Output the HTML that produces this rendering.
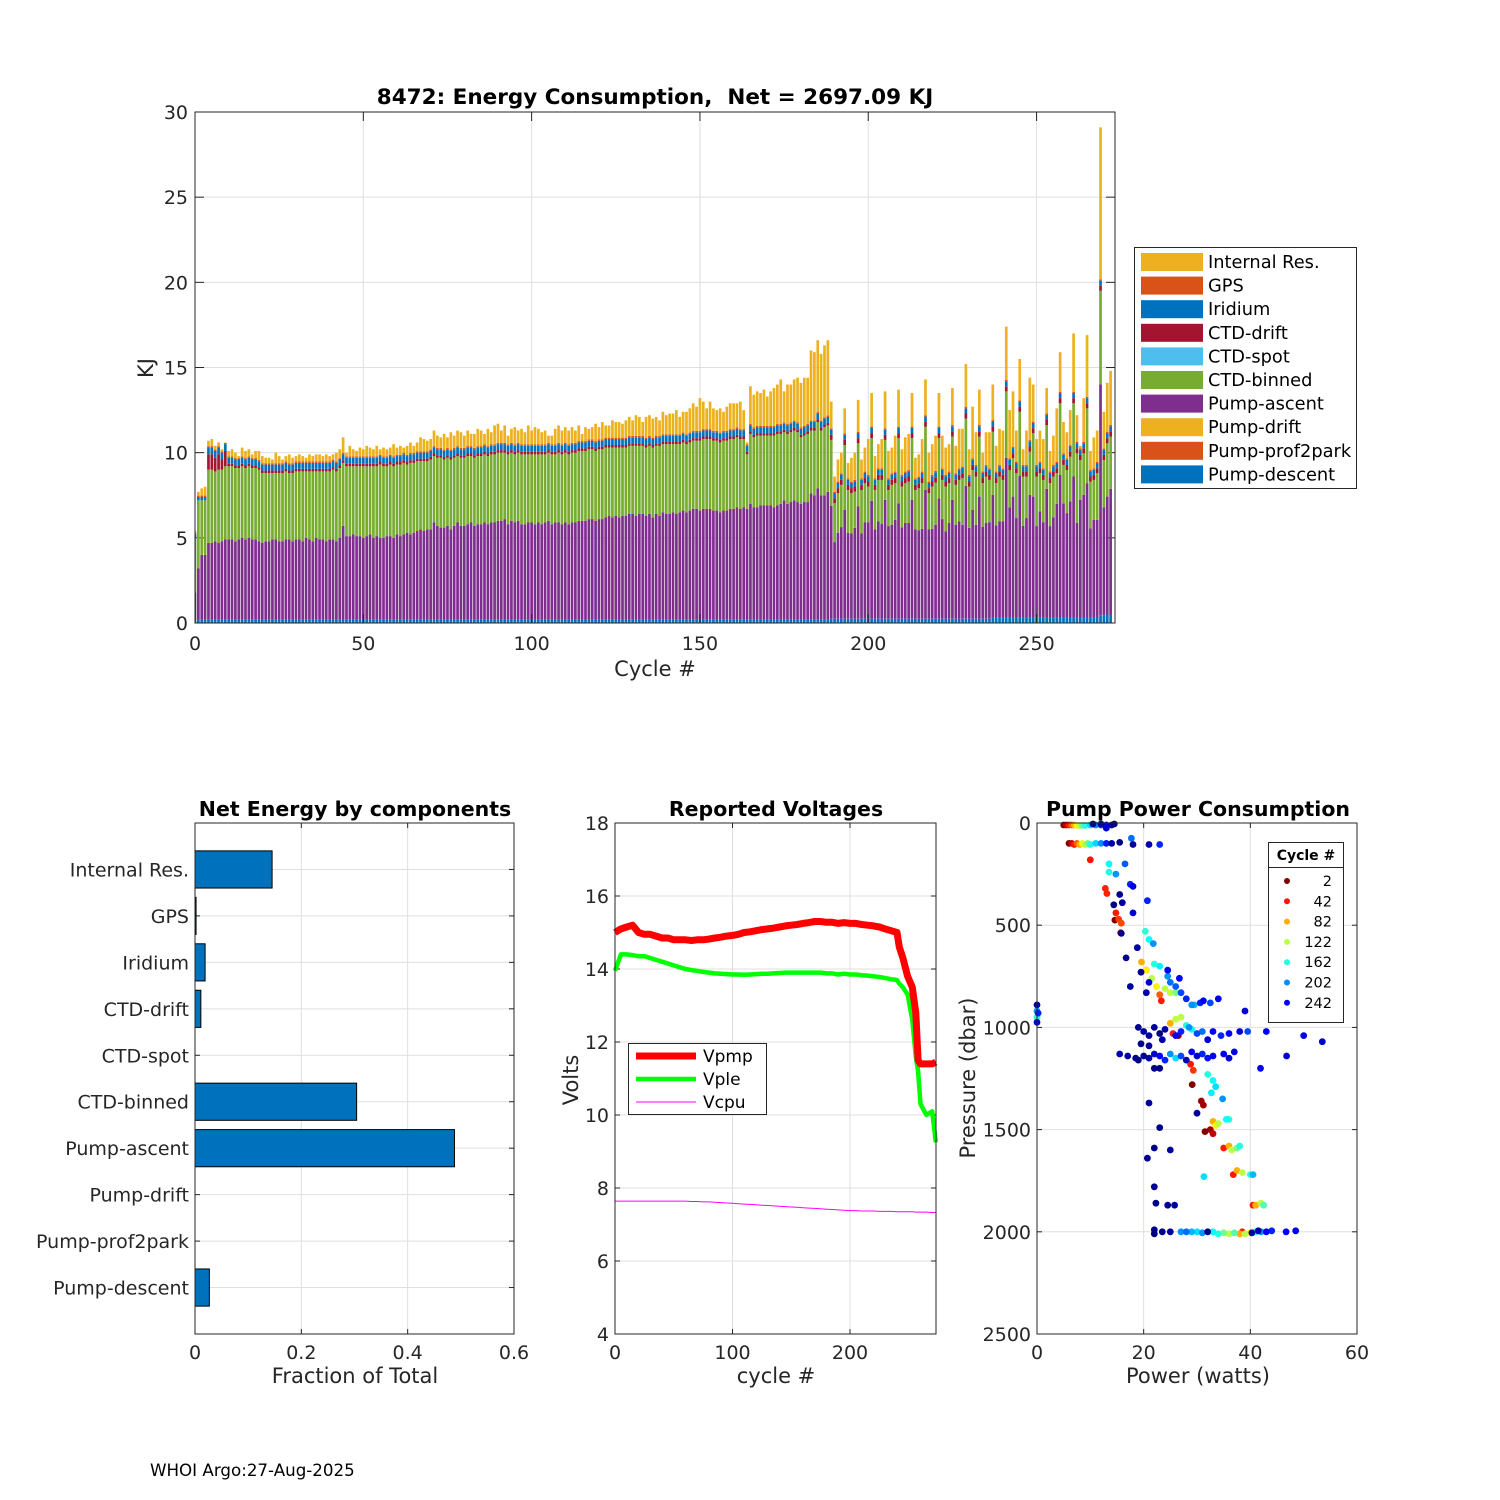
<!DOCTYPE html>
<html><head><meta charset="utf-8"><style>
html,body{margin:0;padding:0;background:#fff;}
svg{display:block;font-family:"DejaVu Sans","Liberation Sans",sans-serif;}
</style></head><body>
<svg id="fig" width="1500" height="1500" viewBox="0 0 1500 1500" xmlns="http://www.w3.org/2000/svg">
<rect width="1500" height="1500" fill="#fff"/>
<g id="top"></g><g id="bl"></g><g id="bm"></g><g id="br"></g>
<text x="150" y="1476" font-size="16.7" fill="#000">WHOI Argo:27-Aug-2025</text>
</svg>
<script>
// ---------- Energy stacked bar data (cycle index 0..272) ----------
const ascentTop = [1.8,3.2,4.0,4.0,4.7,4.7,4.8,4.7,4.8,4.9,
4.9,4.9,4.8,4.9,5.0,4.9,5.0,4.9,4.9,4.8, 4.7,4.8,4.8,4.9,4.9,4.8,4.8,4.9,4.9,4.8,
4.9,4.9,4.8,5.0,4.9,4.8,5.0,4.9,4.9,4.8, 4.9,4.9,4.8,5.0,5.7,5.1,5.1,5.2,5.1,5.1,
5.0,5.1,5.2,5.0,5.1,5.0,5.0,5.1,5.1,5.0, 5.2,5.1,5.2,5.3,5.2,5.3,5.4,5.5,5.4,5.5,
5.5,5.9,5.7,5.6,5.6,5.7,5.5,5.7,5.9,5.7, 5.7,5.8,5.9,5.7,5.8,5.8,5.9,5.8,5.9,5.9,
6.0,6.0,6.1,5.8,6.0,5.9,6.0,5.8,5.8,5.9, 5.9,5.8,5.9,5.8,5.9,6.0,5.8,5.9,5.9,5.8,
5.9,5.8,5.9,5.9,6.0,6.0,6.0,6.1,6.1,6.0, 6.1,6.1,6.2,6.3,6.2,6.3,6.2,6.3,6.3,6.4,
6.4,6.3,6.4,6.4,6.3,6.4,6.2,6.4,6.3,6.5, 6.4,6.4,6.5,6.4,6.5,6.6,6.5,6.6,6.7,6.7,
6.6,6.7,6.7,6.7,6.6,6.6,6.5,6.6,6.6,6.7, 6.7,6.8,6.7,6.8,6.7,7.0,6.8,6.8,6.9,6.9,
6.9,6.9,6.8,6.9,7.0,7.2,7.0,7.1,7.2,7.1, 7.0,7.1,7.1,7.6,7.5,7.9,7.5,7.5,7.7,
6.88,4.75,5.3,5.63,6.65,5.3,5.26,5.59,6.84,5.26,5.9,5.92,7.17,5.49,5.96,5.81,7.23,5.69,5.77,6.06,
7.03,5.61,5.87,5.87,7.23,5.49,5.45,5.53,7.81,5.49,5.53,5.77,7.32,6.10,5.39,5.87,7.23,5.77,5.96,5.77,
8.05,5.59,6.65,5.77,7.42,5.65,5.87,5.92,7.52,5.73,5.96,5.96,9.7,6.78,7.42,6.16,8.63,5.71,6.16,7.52,
7.42,5.69,6.55,5.92,7.88,5.69,6.20,7.0,8.69,7.03,6.45,7.13,8.6,5.87,7.23,7.52,8.21,5.55,6.06,6.06,
14.0,6.78,7.42,7.88];
const binnedTop = [5.0,7.2,7.2,7.2,9.0,9.0,8.9,9.0,9.0,9.2,
9.2,9.2,9.1,9.1,9.2,9.1,9.2,9.1,9.1,9.0, 8.8,8.8,8.8,8.8,8.8,8.8,8.8,8.9,8.8,8.8,
8.9,8.9,8.9,8.9,8.9,8.9,8.9,8.9,8.9,8.9, 8.9,9.0,8.9,9.1,9.4,9.2,9.2,9.2,9.2,9.2,
9.2,9.2,9.2,9.2,9.2,9.3,9.2,9.2,9.3,9.2, 9.3,9.3,9.4,9.3,9.4,9.4,9.5,9.5,9.5,9.5,
9.6,9.8,9.7,9.7,9.6,9.7,9.6,9.7,9.8,9.7, 9.7,9.8,9.8,9.7,9.8,9.8,9.9,9.8,9.9,9.9,
10.0,10.0,10.0,9.9,10.0,9.9,10.0,9.9,9.9,9.9, 9.9,9.9,9.9,9.9,9.9,10.0,9.9,9.9,10.0,9.9,
10.0,9.9,10.0,10.0,10.1,10.1,10.1,10.2,10.2,10.1, 10.2,10.2,10.3,10.3,10.3,10.3,10.3,10.3,10.3,10.4,
10.4,10.4,10.4,10.4,10.3,10.4,10.3,10.4,10.4,10.5, 10.5,10.5,10.5,10.5,10.5,10.6,10.5,10.6,10.7,10.7,
10.7,10.8,10.8,10.8,10.7,10.7,10.6,10.7,10.7,10.8, 10.8,10.9,10.8,10.8,9.9,11.1,10.9,11.0,11.0,11.0,
11.0,11.0,11.0,11.1,11.1,11.2,11.1,11.2,11.3,11.2, 10.9,11.0,11.1,11.3,11.3,11.8,11.3,11.5,11.6,
10.75,7.03,7.62,8.11,10.45,7.81,7.62,7.72,10.55,7.81,8.21,8.01,10.85,7.81,8.40,8.40,10.75,7.81,8.11,8.21,
10.85,8.01,8.21,8.30,10.85,7.81,7.91,8.21,11.52,7.62,8.01,8.25,10.85,8.40,8.01,8.21,10.95,8.11,8.40,8.50,
12.0,8.01,8.98,8.60,10.95,8.21,8.60,8.40,11.23,8.21,8.60,8.40,13.6,8.98,9.67,8.79,12.4,8.60,8.60,10.06,
11.14,8.60,8.79,8.40,11.62,8.21,8.60,8.79,12.9,9.28,8.98,9.76,12.9,9.96,9.57,9.96,12.6,8.30,8.40,8.79,
19.5,9.57,10.55,10.95];
const totalTop = [5.4,7.7,7.9,8.0,10.7,10.8,10.4,10.6,10.2,10.6,
10.1,10.2,10.0,9.8,10.3,10.1,10.2,9.9,10.1,10.1, 9.8,9.7,9.7,9.6,10.0,9.8,9.6,9.8,9.9,9.7,
9.8,9.9,9.8,9.7,9.9,9.8,9.9,9.9,9.8,9.9, 9.8,9.9,10.0,10.2,10.9,10.0,10.4,10.2,10.1,10.3,
10.2,10.4,10.3,10.2,10.4,10.2,10.3,10.2,10.3,10.5, 10.3,10.4,10.3,10.4,10.6,10.4,10.6,10.9,10.8,10.7,
10.8,11.3,11.0,10.9,11.1,10.9,11.2,11.0,11.3,11.2, 11.0,11.3,11.1,11.1,11.4,11.3,11.1,11.4,11.2,11.6,
11.7,11.3,11.6,11.0,11.4,11.5,11.3,11.4,11.2,11.6, 11.3,11.5,11.4,11.2,11.3,11.0,11.0,11.4,11.6,11.3,
11.5,11.3,11.5,11.3,11.6,11.1,11.5,11.4,11.5,11.7, 11.5,11.8,11.6,11.6,11.9,11.8,11.8,11.7,11.9,12.1,
11.9,12.2,12.1,11.8,12.1,12.2,12.0,12.1,11.9,12.4, 12.2,12.3,12.3,12.5,12.1,12.4,12.4,12.6,12.9,12.7,
13.2,13.0,12.6,13.0,12.6,12.5,12.6,12.4,12.7,12.9, 12.9,12.9,13.0,12.5,10.6,13.9,13.4,13.6,13.5,13.7,
13.3,13.6,13.8,14.0,14.3,13.6,14.0,14.0,14.3,14.4, 14.1,14.4,14.4,16.0,15.9,16.6,15.8,16.3,16.6,
13.0,8.6,9.6,10.0,12.6,9.4,9.7,10.0,13.1,9.6,10.3,10.8,13.5,9.8,10.5,10.8,13.6,10.1,10.3,11.0,
13.7,10.2,10.9,11.1,13.5,9.7,9.9,10.8,14.3,10.0,10.5,11.0,13.5,11.0,10.3,10.5,13.8,10.4,11.4,11.4,
15.2,10.2,12.7,11.2,13.7,10.0,11.2,11.2,14.0,10.4,11.4,11.3,17.4,12.5,13.6,11.3,15.5,10.2,11.3,14.4,
14.0,10.8,11.3,10.8,13.8,10.1,11.0,12.6,15.9,11.8,11.2,12.5,17.0,12.2,10.4,13.2,16.9,10.1,10.9,11.3,
29.1,12.4,14.1,14.8];
const descentKJ = [0.15,0.2,0.2,0.2,0.2,0.2,0.2,0.2,0.2,0.2,
0.2,0.2,0.2,0.2,0.2,0.2,0.2,0.2,0.2,0.2,0.2,0.2,0.2,0.2,0.2,0.2,0.2,0.2,0.2,0.2,
0.2,0.2,0.2,0.2,0.2,0.2,0.2,0.2,0.2,0.2,0.2,0.2,0.2,0.2,0.2,0.2,0.2,0.2,0.2,0.2,
0.2,0.2,0.2,0.2,0.2,0.2,0.2,0.2,0.2,0.2,0.2,0.2,0.2,0.2,0.2,0.2,0.2,0.2,0.2,0.2,
0.2,0.2,0.2,0.2,0.2,0.2,0.2,0.2,0.2,0.2,0.2,0.2,0.2,0.2,0.2,0.2,0.2,0.2,0.2,0.2,
0.2,0.2,0.2,0.2,0.2,0.2,0.2,0.2,0.2,0.2,0.2,0.2,0.2,0.2,0.2,0.2,0.2,0.2,0.2,0.2,
0.2,0.2,0.2,0.2,0.2,0.2,0.2,0.2,0.2,0.2,0.2,0.2,0.2,0.2,0.2,0.2,0.2,0.2,0.2,0.2,
0.2,0.2,0.2,0.2,0.2,0.2,0.2,0.2,0.2,0.2,0.2,0.2,0.2,0.2,0.2,0.2,0.2,0.2,0.2,0.2,
0.2,0.2,0.2,0.2,0.2,0.2,0.2,0.2,0.2,0.2,0.2,0.2,0.2,0.2,0.2,0.2,0.2,0.2,0.2,0.2,
0.2,0.2,0.2,0.2,0.2,0.2,0.2,0.2,0.2,0.2,0.2,0.2,0.2,0.2,0.2,0.2,0.2,0.2,0.2,
0.25,0.25,0.25,0.25,0.25,0.25,0.25,0.25,0.25,0.25,0.25,0.25,0.25,0.25,0.25,0.25,0.25,0.25,0.25,0.25,
0.25,0.25,0.25,0.25,0.25,0.25,0.25,0.25,0.25,0.25,0.25,0.25,0.25,0.25,0.25,0.25,0.25,0.25,0.25,0.25,
0.25,0.25,0.25,0.25,0.25,0.25,0.25,0.25,0.3,0.3,0.3,0.3,0.3,0.3,0.3,0.3,0.3,0.3,0.3,0.3,
0.3,0.3,0.3,0.3,0.3,0.3,0.3,0.3,0.35,0.35,0.35,0.35,0.35,0.35,0.35,0.35,0.35,0.35,0.35,0.35,
0.45,0.45,0.5,0.5];
const driftKJ = [0,0,0,0,0.9,0.9,0.8,0.9,0.6,0.9,
0.15,0.15,0.15,0.15,0.15,0.15,0.15,0.15,0.15,0.15,0.15,0.15,0.15,0.15,0.15,0.15,0.15,0.15,0.15,0.15,
0.15,0.15,0.15,0.15,0.15,0.15,0.15,0.15,0.15,0.15,0.15,0.15,0.15,0.15,0.15,0.15,0.15,0.15,0.15,0.15,
0.15,0.15,0.15,0.15,0.15,0.15,0.15,0.15,0.15,0.15,0.15,0.15,0.15,0.15,0.15,0.15,0.15,0.15,0.15,0.15,
0.15,0.15,0.15,0.15,0.15,0.15,0.15,0.15,0.15,0.15,0.15,0.15,0.15,0.15,0.15,0.15,0.15,0.15,0.15,0.15,
0.15,0.15,0.15,0.15,0.15,0.15,0.15,0.15,0.15,0.15,0.15,0.15,0.15,0.15,0.15,0.15,0.15,0.15,0.15,0.15,
0.15,0.15,0.15,0.15,0.15,0.15,0.15,0.15,0.15,0.15,0.15,0.15,0.15,0.15,0.15,0.15,0.15,0.15,0.15,0.15,
0.15,0.15,0.15,0.15,0.15,0.15,0.15,0.15,0.15,0.15,0.15,0.15,0.15,0.15,0.15,0.15,0.15,0.15,0.15,0.15,
0.15,0.15,0.15,0.15,0.15,0.15,0.15,0.15,0.15,0.15,0.15,0.15,0.15,0.15,0.15,0.15,0.15,0.15,0.15,0.15,
0.15,0.15,0.15,0.15,0.15,0.15,0.15,0.15,0.15,0.15,0.15,0.15,0.15,0.15,0.15,0.15,0.15,0.15,0.15,
0.3,0.3,0.3,0.3,0.3,0.3,0.3,0.3,0.3,0.3,0.3,0.3,0.3,0.3,0.3,0.3,0.3,0.3,0.3,0.3,
0.3,0.3,0.3,0.3,0.3,0.3,0.3,0.3,0.3,0.3,0.3,0.3,0.3,0.3,0.3,0.3,0.3,0.3,0.3,0.3,
0.3,0.3,0.3,0.3,0.3,0.3,0.3,0.3,0.3,0.3,0.3,0.3,0.3,0.3,0.3,0.3,0.3,0.3,0.3,0.3,
0.3,0.3,0.3,0.3,0.3,0.3,0.3,0.3,0.3,0.3,0.3,0.3,0.3,0.3,0.3,0.3,0.3,0.3,0.3,0.3,
0.3,0.3,0.3,0.3];
const iridiumKJ = [0.2,0.2,0.2,0.2,0.4,0.4,0.4,0.4,0.4,0.4,
0.35,0.35,0.35,0.35,0.35,0.35,0.35,0.35,0.35,0.35,0.35,0.35,0.35,0.35,0.35,0.35,0.35,0.35,0.35,0.35,
0.35,0.35,0.35,0.35,0.35,0.35,0.35,0.35,0.35,0.35,0.35,0.35,0.35,0.35,0.35,0.35,0.35,0.35,0.35,0.35,
0.35,0.35,0.35,0.35,0.35,0.35,0.35,0.35,0.35,0.35,0.35,0.35,0.35,0.35,0.35,0.35,0.35,0.35,0.35,0.35,
0.35,0.35,0.35,0.35,0.35,0.35,0.35,0.35,0.35,0.35,0.35,0.35,0.35,0.35,0.35,0.35,0.35,0.35,0.35,0.35,
0.35,0.35,0.35,0.35,0.35,0.35,0.35,0.35,0.35,0.35,0.35,0.35,0.35,0.35,0.35,0.35,0.35,0.35,0.35,0.35,
0.35,0.35,0.35,0.35,0.35,0.35,0.35,0.35,0.35,0.35,0.35,0.35,0.35,0.35,0.35,0.35,0.35,0.35,0.35,0.35,
0.35,0.35,0.35,0.35,0.35,0.35,0.35,0.35,0.35,0.35,0.35,0.35,0.35,0.35,0.35,0.35,0.35,0.35,0.35,0.35,
0.35,0.35,0.35,0.35,0.35,0.35,0.35,0.35,0.35,0.35,0.35,0.35,0.35,0.35,0.35,0.35,0.35,0.35,0.35,0.35,
0.35,0.35,0.35,0.35,0.35,0.35,0.35,0.35,0.35,0.35,0.35,0.35,0.35,0.35,0.35,0.35,0.35,0.35,0.35,
0.3,0.3,0.3,0.3,0.3,0.3,0.3,0.3,0.3,0.3,0.3,0.3,0.3,0.3,0.3,0.3,0.3,0.3,0.3,0.3,
0.3,0.3,0.3,0.3,0.3,0.3,0.3,0.3,0.3,0.3,0.3,0.3,0.3,0.3,0.3,0.3,0.3,0.3,0.3,0.3,
0.3,0.3,0.3,0.3,0.3,0.3,0.3,0.3,0.3,0.3,0.3,0.3,0.3,0.3,0.3,0.3,0.3,0.3,0.3,0.3,
0.3,0.3,0.3,0.3,0.3,0.3,0.3,0.3,0.3,0.3,0.3,0.3,0.3,0.3,0.3,0.3,0.3,0.3,0.3,0.3,
0.3,0.3,0.3,0.3];
const energyTicksY = [0,5,10,15,20,25,30];
const energyTicksX = [0,50,100,150,200,250];
const legendNames = ["Internal Res.","GPS","Iridium","CTD-drift","CTD-spot","CTD-binned","Pump-ascent","Pump-drift","Pump-prof2park","Pump-descent"];
const legendColors = ["#EDB120","#D95319","#0072BD","#A2142F","#4DBEEE","#77AC30","#7E2F8E","#EDB120","#D95319","#0072BD"];

// ---------- Net energy fractions ----------
const compNames = ["Pump-descent","Pump-prof2park","Pump-drift","Pump-ascent","CTD-binned","CTD-spot","CTD-drift","Iridium","GPS","Internal Res."];
const compFrac = [0.027,0,0,0.488,0.304,0,0.011,0.019,0.002,0.145];
const fracTicks = [0,0.2,0.4,0.6];

// ---------- Voltages ----------
const vCycles = [0,5,10,15,20,25,30,35,40,45,50,55,60,65,70,75,80,85,90,95,100,105,110,115,120,125,130,135,140,145,150,155,160,165,170,175,180,185,190,195,200,205,210,215,220,225,230,235,240,242,245,249,253,256,258,260,265,270,273];
const vPmp = [15.0,15.1,15.15,15.2,15.0,14.95,14.95,14.9,14.85,14.85,14.8,14.8,14.8,14.78,14.8,14.8,14.82,14.85,14.87,14.9,14.92,14.95,15.0,15.02,15.05,15.08,15.1,15.12,15.15,15.18,15.2,15.22,15.25,15.27,15.3,15.3,15.28,15.28,15.25,15.27,15.25,15.25,15.22,15.2,15.18,15.15,15.1,15.05,15.0,14.6,14.3,13.8,13.5,12.8,11.5,11.4,11.4,11.4,11.45];
const vPle = [13.95,14.4,14.4,14.38,14.35,14.35,14.3,14.25,14.2,14.15,14.1,14.05,14.0,13.97,13.95,13.92,13.9,13.88,13.87,13.86,13.85,13.85,13.84,13.85,13.86,13.87,13.87,13.88,13.89,13.9,13.9,13.9,13.9,13.9,13.9,13.9,13.88,13.88,13.85,13.87,13.85,13.85,13.83,13.82,13.8,13.78,13.75,13.72,13.7,13.6,13.5,13.3,12.6,11.6,11.2,10.3,10.0,10.1,9.25];
const vCpu = [7.64,7.64,7.64,7.64,7.64,7.64,7.64,7.64,7.64,7.64,7.64,7.64,7.64,7.63,7.63,7.62,7.62,7.61,7.6,7.59,7.58,7.57,7.56,7.55,7.54,7.53,7.52,7.51,7.5,7.49,7.48,7.47,7.46,7.45,7.44,7.43,7.42,7.41,7.4,7.39,7.38,7.38,7.37,7.37,7.37,7.36,7.36,7.36,7.35,7.35,7.35,7.35,7.35,7.34,7.34,7.34,7.34,7.33,7.33];
const voltTicksY = [4,6,8,10,12,14,16,18];
const voltTicksX = [0,100,200];

// ---------- Pump power scatter ----------
const powW = [5,5.5,6,6.5,7,7.5,8,8.5,9,10,11,12,13,14,14.5,13,10.5,12,
6,6.5,7,7.5,8,8.5,9,9.5,10,11,12,13,14,15.5,17.7,18,21,23,
10,13.5,13.5,14.8,16.5,12.8,13.1,17.5,18,15.5,16,14.4,20.7,18,14.8,15.3,15.8,15.8,14.6,15.7,
20.3,21,21.8,18.8,16.7,
19.6,20.5,21.5,22.4,23,23.3,20.5,22,23,24.5,25,26,27,28,29,26,25,24,19.5,17.5,20.5,21,26.7,24.5,30.6,32.5,34,39,31.2,29.5,
19,20,21,22,23,24,19.5,21,23.5,26,27,28.5,30,31,32,33,34.5,36,38,39.5,25,26,27,28,29,25.5,26.5,43,50,53.5,46.8,41.9,
15.5,17,18.5,19,20,21,22,23,24,25,26,27,28,29,30,31,32,33,35,36,37,22,23,28.8,29.3,32,33,33.5,32.7,29.1,30.8,31.2,34.8,30,21,23,35.5,36,
33,33.5,34,32.5,31.5,33,35,36,36.5,37.5,38,22,25,20.7,
36.8,37.5,38.5,40,40.5,31.3,22,22.3,24.5,25.8,40.5,41,42,42.5,
22,22,23.5,25,27,28,29,30,31,32,33,34,35,36,37,38,38.5,39,40,41,42,43,41.5,44,46.7,48.5,40.3,
0,0,0,0,0.2];
const presDbar = [10,10,10,10,10,12,12,12,12,10,10,10,10,10,5,25,5,5,
100,100,105,100,105,100,105,100,105,100,100,100,100,95,75,105,105,105,
180,200,240,250,200,320,345,300,310,350,390,400,380,440,440,470,490,540,475,537,
530,570,590,610,660,
680,720,760,800,840,870,720,690,700,750,780,800,830,860,890,830,830,810,730,800,830,780,760,720,880,880,860,920,870,890,
1000,1020,1040,1000,1030,1010,1080,1090,1060,1040,1020,1000,1030,1020,1060,1020,1040,1030,1020,1020,980,960,950,990,1010,1030,1040,1020,1040,1070,1140,1200,
1130,1140,1150,1160,1140,1150,1130,1140,1160,1130,1150,1140,1160,1120,1140,1130,1150,1140,1130,1150,1120,1200,1200,1180,1210,1230,1260,1290,1320,1280,1360,1380,1350,1420,1370,1490,1450,1450,
1460,1480,1470,1500,1510,1520,1590,1580,1600,1590,1580,1590,1600,1640,
1720,1700,1710,1720,1720,1730,1780,1860,1870,1870,1870,1870,1860,1870,
1990,2010,2000,2000,2000,2000,2000,2000,2005,2000,2000,2010,2005,2010,2005,2010,2000,2010,2005,2000,2000,2000,1995,1995,2000,1995,2005,
890,920,950,975,930];
const pointCycle = [2,20,42,62,82,102,122,142,162,182,202,222,242,262,272,250,270,265,
2,22,42,62,82,102,122,142,162,182,202,232,262,272,210,265,260,230,
40,170,165,200,215,45,45,230,250,270,265,270,230,250,42,50,55,270,2,10,
160,170,200,265,270,
82,100,122,100,60,42,62,162,175,200,210,215,220,230,200,140,120,122,270,265,262,250,240,245,230,220,240,250,240,190,
270,265,262,268,272,262,270,266,260,240,230,200,220,210,250,240,230,240,250,220,82,120,122,162,170,42,2,242,245,250,250,240,
260,265,270,272,268,262,250,240,230,200,180,220,260,240,250,230,235,240,245,250,245,272,270,42,50,162,170,180,175,2,10,12,200,265,265,270,170,160,
82,100,122,10,2,20,42,82,122,140,162,270,265,270,
42,82,122,162,190,180,268,270,265,262,42,82,122,150,
270,272,268,265,200,210,190,180,200,270,170,162,140,122,150,82,42,122,100,162,200,240,260,230,242,245,265,
262,200,162,250,230];
const legendCycles = [2,42,82,122,162,202,242];
const powTicksX = [0,20,40,60];
const presTicksY = [0,500,1000,1500,2000,2500];

const NS = "http://www.w3.org/2000/svg";
function mk(parent, tag, attrs, text){
  const e = document.createElementNS(NS, tag);
  for (const k in attrs) e.setAttribute(k, attrs[k]);
  if (text !== undefined) e.textContent = text;
  parent.appendChild(e);
  return e;
}
const TXT = "#262626", GRID = "#dfdfdf";
const TICK = 19, AXT = 21, TTL = 20.5;

function jet(c){
  const t = 1 - (c - 2) / 271;
  const cl = v => Math.max(0, Math.min(1, v));
  const r = cl(1.5 - Math.abs(4*t - 3)), g = cl(1.5 - Math.abs(4*t - 2)), b = cl(1.5 - Math.abs(4*t - 1));
  return `rgb(${Math.round(r*255)},${Math.round(g*255)},${Math.round(b*255)})`;
}

function axesFrame(g, L, T, R, B){
  const box = mk(g, "rect", {x:L, y:T, width:R-L, height:B-T, fill:"none", stroke:TXT, "stroke-width":1});
  
  
}

// ================= TOP: stacked bars =================
(function(){
  const g = document.getElementById("top");
  
  
  const L=195, R=1115, T=112, B=623;
  const xs = c => L + (c/273.3)*(R-L);
  const ys = v => B - (v/30)*(B-T);
  for (const t of energyTicksY){
    const y = ys(t);
    if (t>0 && t<30){ const gl = mk(g,"line",{x1:L,x2:R,y1:y,y2:y,stroke:GRID,"stroke-width":1});
        }
    const tl = mk(g,"text",{x:L-7,y:y+7,"text-anchor":"end","font-size":TICK,fill:TXT}, String(t));
     
    mk(g,"line",{x1:L,x2:L+9,y1:y,y2:y,stroke:TXT});
    mk(g,"line",{x1:R,x2:R-9,y1:y,y2:y,stroke:TXT});
  }
  for (const t of energyTicksX){
    const x = xs(t);
    if (t>0){ const gl = mk(g,"line",{x1:x,x2:x,y1:T,y2:B,stroke:GRID,"stroke-width":1});
        }
    const tl = mk(g,"text",{x:x,y:B+27,"text-anchor":"middle","font-size":TICK,fill:TXT}, String(t));
     
  }
  const clip = mk(g,"clipPath",{id:"topclip"}); mk(clip,"rect",{x:L,y:T,width:R-L,height:B-T});
  const bars = mk(g,"g",{"clip-path":"url(#topclip)"});
  
  
  const n = ascentTop.length;
  const bw = (R-L)/273.3*0.8;
  for (let i=0;i<n;i++){
    const segs = [];
    const d = descentKJ[i] !== undefined ? descentKJ[i] : 0.2;
    const pt = ascentTop[i], gt = binnedTop[i];
    const dr = driftKJ[i]||0, ir = iridiumKJ[i]||0, tot = totalTop[i];
    segs.push([0,d,"#0072BD"]);
    segs.push([d,pt,"#7E2F8E"]);
    segs.push([pt,gt,"#77AC30"]);
    segs.push([gt,gt+dr,"#A2142F"]);
    segs.push([gt+dr,gt+dr+ir,"#0072BD"]);
    segs.push([gt+dr+ir,Math.min(tot,gt+dr+ir+0.08),"#D95319"]);
    segs.push([gt+dr+ir+0.08,tot,"#EDB120"]);
    const x = xs(i) - bw/2;
    for (const s of segs){
      if (s[1] <= s[0]) continue;
      const r = mk(bars,"rect",{x:x.toFixed(2),y:ys(s[1]).toFixed(2),width:bw.toFixed(2),height:(ys(s[0])-ys(s[1])).toFixed(2),fill:s[2]});
      
      
    }
  }
  for (const t of energyTicksX){ const x=xs(t);
    mk(g,"line",{x1:x,x2:x,y1:B,y2:B-9,stroke:TXT}); mk(g,"line",{x1:x,x2:x,y1:T,y2:T+9,stroke:TXT}); }
  axesFrame(g,L,T,R,B);
  const ti = mk(g,"text",{x:655,y:104,"text-anchor":"middle","font-size":21.5,"font-weight":"bold",fill:"#000"},"8472: Energy Consumption,\u00a0\u00a0Net = 2697.09 KJ");
   
  const xl = mk(g,"text",{x:655,y:676,"text-anchor":"middle","font-size":AXT,fill:TXT},"Cycle #");
   
  const yl = mk(g,"text",{x:0,y:0,"text-anchor":"middle","font-size":AXT,fill:TXT,transform:"translate(153,368) rotate(-90)"},"KJ");
   
  const lg = mk(g,"g",{});
   
  mk(lg,"rect",{x:1134.5,y:247.5,width:222,height:241,fill:"#fff",stroke:TXT});
  for (let k=0;k<legendNames.length;k++){
    const y = 262 + k*23.6;
    const e = mk(lg,"g",{});
     
    mk(e,"rect",{x:1141,y:y-9,width:62,height:18,fill:legendColors[k]});
    mk(e,"text",{x:1208,y:y+6,"font-size":17.8,fill:"#000"},legendNames[k]);
  }
})();

// ================= BOTTOM LEFT: fractions =================
(function(){
  const g = document.getElementById("bl");
   
  const L=195,R=514,T=823,B=1334;
  const xs = v => L + v/0.6*(R-L);
  const ys = i => B - (i+1)*(B-T)/11;
  for (const t of fracTicks){ const x=xs(t);
    if (t>0 && t<0.6) mk(g,"line",{x1:x,x2:x,y1:T,y2:B,stroke:GRID});
    const tl = mk(g,"text",{x:x,y:B+25,"text-anchor":"middle","font-size":TICK,fill:TXT},String(t));
     
    mk(g,"line",{x1:x,x2:x,y1:B,y2:B-5,stroke:TXT}); mk(g,"line",{x1:x,x2:x,y1:T,y2:T+5,stroke:TXT});
  }
  for (let i=0;i<compNames.length;i++){ const y=ys(i);
    mk(g,"line",{x1:L,x2:R,y1:y,y2:y,stroke:GRID});
    mk(g,"line",{x1:L,x2:L+5,y1:y,y2:y,stroke:TXT}); mk(g,"line",{x1:R,x2:R-5,y1:y,y2:y,stroke:TXT});
    const tl = mk(g,"text",{x:L-6,y:y+7,"text-anchor":"end","font-size":TICK,fill:TXT},compNames[i]);
     
  }
  for (let i=0;i<compNames.length;i++){
    if (compFrac[i] <= 0) continue;
    const h = (B-T)/11*0.8, y = ys(i) - h/2;
    const r = mk(g,"rect",{x:L,y:y,width:Math.max(0.5,xs(compFrac[i])-L),height:h,fill:"#0072BD",stroke:"#000","stroke-width":1});
    
    
  }
  axesFrame(g,L,T,R,B);
  const ti = mk(g,"text",{x:355,y:816,"text-anchor":"middle","font-size":TTL,"font-weight":"bold",fill:"#000"},"Net Energy by components");
   
  const xl = mk(g,"text",{x:355,y:1383,"text-anchor":"middle","font-size":AXT,fill:TXT},"Fraction of Total");
   
})();

// ================= BOTTOM MIDDLE: voltages =================
(function(){
  const g = document.getElementById("bm");
   
  const L=615,R=936,T=823,B=1334;
  const xs = c => L + c/273.2*(R-L);
  const ys = v => B - (v-4)/14*(B-T);
  for (const t of voltTicksY){ const y=ys(t);
    if (t>4 && t<18) mk(g,"line",{x1:L,x2:R,y1:y,y2:y,stroke:GRID});
    const tl = mk(g,"text",{x:L-6,y:y+7,"text-anchor":"end","font-size":TICK,fill:TXT},String(t));
     
    mk(g,"line",{x1:L,x2:L+5,y1:y,y2:y,stroke:TXT}); mk(g,"line",{x1:R,x2:R-5,y1:y,y2:y,stroke:TXT});
  }
  for (const t of voltTicksX){ const x=xs(t);
    if (t>0) mk(g,"line",{x1:x,x2:x,y1:T,y2:B,stroke:GRID});
    const tl = mk(g,"text",{x:x,y:B+25,"text-anchor":"middle","font-size":TICK,fill:TXT},String(t));
     
    mk(g,"line",{x1:x,x2:x,y1:B,y2:B-5,stroke:TXT}); mk(g,"line",{x1:x,x2:x,y1:T,y2:T+5,stroke:TXT});
  }
  const line = (arr, col, w, name) => {
    const p = arr.map((v,i)=>`${i?'L':'M'}${xs(vCycles[i]).toFixed(1)},${ys(v).toFixed(1)}`).join(' ');
    const el = mk(g,"path",{d:p,fill:"none",stroke:col,"stroke-width":w,"stroke-linejoin":"round"});
    
    
  };
  line(vCpu,"#ff00ff",1,"vcpu-line");
  line(vPle,"#00ff00",4.5,"vple-line");
  line(vPmp,"#ff0000",7,"vpmp-line");
  axesFrame(g,L,T,R,B);
  const lg = mk(g,"g",{});
   
  mk(lg,"rect",{x:628.5,y:1043.5,width:138,height:71,fill:"#fff",stroke:TXT});
  const ent = [["Vpmp","#ff0000",7],["Vple","#00ff00",4.5],["Vcpu","#ff00ff",1]];
  ent.forEach((e,k)=>{ const y=1056+k*23;
    const eg = mk(lg,"g",{});
     
    mk(eg,"line",{x1:636,x2:696,y1:y,y2:y,stroke:e[1],"stroke-width":e[2]});
    mk(eg,"text",{x:703,y:y+6,"font-size":17,fill:"#000"},e[0]);
  });
  const ti = mk(g,"text",{x:776,y:816,"text-anchor":"middle","font-size":TTL,"font-weight":"bold",fill:"#000"},"Reported Voltages");
   
  const xl = mk(g,"text",{x:776,y:1383,"text-anchor":"middle","font-size":AXT,fill:TXT},"cycle #");
   
  const yl = mk(g,"text",{x:0,y:0,"text-anchor":"middle","font-size":AXT,fill:TXT,transform:"translate(578,1080) rotate(-90)"},"Volts");
   
})();

// ================= BOTTOM RIGHT: scatter =================
(function(){
  const g = document.getElementById("br");
   
  const L=1037,R=1357,T=823,B=1334;
  const xs = w => L + w/60*(R-L);
  const ys = p => T + p/2500*(B-T);
  for (const t of presTicksY){ const y=ys(t);
    if (t>0 && t<2500) mk(g,"line",{x1:L,x2:R,y1:y,y2:y,stroke:GRID});
    const tl = mk(g,"text",{x:L-6,y:y+7,"text-anchor":"end","font-size":TICK,fill:TXT},String(t));
     
    mk(g,"line",{x1:L,x2:L+5,y1:y,y2:y,stroke:TXT}); mk(g,"line",{x1:R,x2:R-5,y1:y,y2:y,stroke:TXT});
  }
  for (const t of powTicksX){ const x=xs(t);
    if (t>0 && t<60) mk(g,"line",{x1:x,x2:x,y1:T,y2:B,stroke:GRID});
    const tl = mk(g,"text",{x:x,y:B+25,"text-anchor":"middle","font-size":TICK,fill:TXT},String(t));
     
    mk(g,"line",{x1:x,x2:x,y1:B,y2:B-5,stroke:TXT}); mk(g,"line",{x1:x,x2:x,y1:T,y2:T+5,stroke:TXT});
  }
  const pts = mk(g,"g",{});
   
  const n = Math.min(powW.length, presDbar.length, pointCycle.length);
  const order = [...Array(n).keys()].sort((a,b)=>pointCycle[a]-pointCycle[b]);
  for (const i of order){
    const c = mk(pts,"circle",{cx:xs(powW[i]).toFixed(1),cy:ys(presDbar[i]).toFixed(1),r:3.4,fill:jet(pointCycle[i])});
    
    
  }
  axesFrame(g,L,T,R,B);
  const lg = mk(g,"g",{});
   
  mk(lg,"rect",{x:1268.5,y:842.5,width:75,height:180,fill:"#fff",stroke:TXT});
  mk(lg,"line",{x1:1268.5,x2:1343.5,y1:867.5,y2:867.5,stroke:TXT});
  mk(lg,"text",{x:1306,y:860,"text-anchor":"middle","font-size":14,"font-weight":"bold",fill:"#000"},"Cycle #");
  legendCycles.forEach((c,k)=>{ const y=881+k*20.3;
    const eg = mk(lg,"g",{});
     
    mk(eg,"circle",{cx:1287,cy:y,r:3,fill:jet(c)});
    mk(eg,"text",{x:1332,y:y+5,"text-anchor":"end","font-size":14.5,fill:"#000"},String(c));
  });
  const ti = mk(g,"text",{x:1198,y:816,"text-anchor":"middle","font-size":TTL,"font-weight":"bold",fill:"#000"},"Pump Power Consumption");
   
  const xl = mk(g,"text",{x:1198,y:1383,"text-anchor":"middle","font-size":AXT,fill:TXT},"Power (watts)");
   
  const yl = mk(g,"text",{x:0,y:0,"text-anchor":"middle","font-size":AXT,fill:TXT,transform:"translate(975,1078) rotate(-90)"},"Pressure (dbar)");
   
})();
</script>
</body></html>
